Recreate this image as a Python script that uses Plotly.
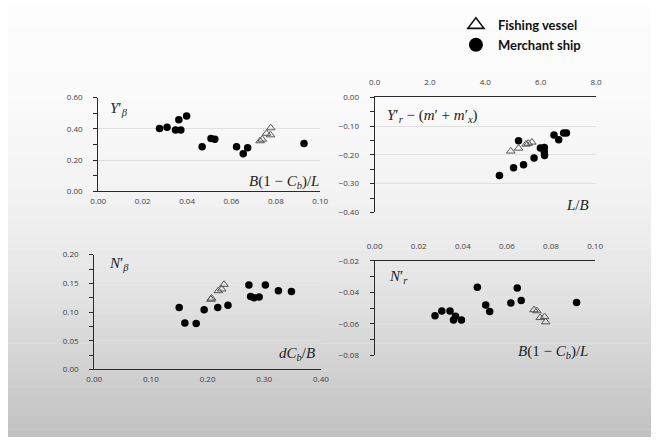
import plotly.graph_objects as go

W, H = 659, 442

# ---- data ----
x1_merchant = [0.0276, 0.0310, 0.0348, 0.0363, 0.0372, 0.0398, 0.0468, 0.0508, 0.0525, 0.0623, 0.0653, 0.0673, 0.0927]
y1_merchant = [0.402, 0.410, 0.392, 0.458, 0.392, 0.483, 0.286, 0.338, 0.333, 0.286, 0.240, 0.279, 0.306]
x1_fishing = [0.0729, 0.0739, 0.0758, 0.0776, 0.0777]
y1_fishing = [0.323, 0.333, 0.371, 0.361, 0.406]

x2_merchant = [4.51, 5.02, 5.20, 5.38, 5.76, 5.99, 6.13, 6.13, 6.14, 6.48, 6.65, 6.83, 6.93]
y2_merchant = [-0.272, -0.245, -0.151, -0.234, -0.211, -0.176, -0.174, -0.189, -0.202, -0.131, -0.147, -0.124, -0.124]
x2_fishing = [4.92, 5.20, 5.47, 5.55, 5.68]
y2_fishing = [-0.187, -0.177, -0.163, -0.160, -0.156]

x3_merchant = [0.150, 0.160, 0.180, 0.194, 0.218, 0.236, 0.273, 0.276, 0.282, 0.291, 0.302, 0.325, 0.348]
y3_merchant = [0.108, 0.081, 0.080, 0.104, 0.108, 0.112, 0.147, 0.127, 0.125, 0.126, 0.147, 0.137, 0.136]
x3_fishing = [0.206, 0.207, 0.219, 0.225, 0.229]
y3_fishing = [0.122, 0.124, 0.137, 0.140, 0.148]

x4_merchant = [0.0274, 0.0305, 0.0342, 0.0358, 0.0367, 0.0394, 0.0466, 0.0504, 0.0522, 0.0618, 0.0647, 0.0665, 0.0916]
y4_merchant = [-0.0548, -0.0518, -0.0518, -0.0575, -0.0551, -0.0575, -0.0367, -0.0480, -0.0522, -0.0468, -0.0373, -0.0452, -0.0464]
x4_fishing = [0.0723, 0.0736, 0.0751, 0.0771, 0.0776]
y4_fishing = [-0.0511, -0.0518, -0.0561, -0.0555, -0.0588]

legend_names = ["Fishing vessel", "Merchant ship"]

# ---- figure ----
fig = go.Figure()

merchant_marker = dict(symbol="circle", size=7.5, color="#000000")
fishing_marker = dict(symbol="triangle-up-open", size=7.5, color="#555555", line=dict(width=1, color="#555555"))

sets = [
    ("x", "y", x1_merchant, y1_merchant, x1_fishing, y1_fishing),
    ("x2", "y2", x2_merchant, y2_merchant, x2_fishing, y2_fishing),
    ("x3", "y3", x3_merchant, y3_merchant, x3_fishing, y3_fishing),
    ("x4", "y4", x4_merchant, y4_merchant, x4_fishing, y4_fishing),
]
for xa, ya, xm, ym, xf, yf in sets:
    fig.add_trace(go.Scatter(x=xm, y=ym, mode="markers", marker=merchant_marker,
                             xaxis=xa, yaxis=ya, showlegend=False, hoverinfo="x+y"))
    fig.add_trace(go.Scatter(x=xf, y=yf, mode="markers", marker=fishing_marker,
                             xaxis=xa, yaxis=ya, showlegend=False, hoverinfo="x+y"))

# legend entries
fig.add_trace(go.Scatter(x=[None], y=[None], mode="markers", name=legend_names[0],
                         marker=dict(symbol="triangle-up-open", size=14, color="#111111",
                                     line=dict(width=1.6, color="#111111"))))
fig.add_trace(go.Scatter(x=[None], y=[None], mode="markers", name=legend_names[1],
                         marker=dict(symbol="circle", size=14, color="#000000")))


def px_x(p):
    return p / W


def px_y(p):
    return 1 - p / H


tickfont = dict(family="Open Sans", size=8, color="#404040")
axis_line = dict(showline=True, linecolor="#2a2a2a", linewidth=1, zeroline=False)


def xaxis(dom, anchor, rng, dtick, fmt, side="bottom"):
    return dict(domain=dom, anchor=anchor, range=rng, dtick=dtick, tick0=0, tickformat=fmt,
                side=side, showgrid=False, ticks="", ticklen=0, tickfont=tickfont,
                ticklabelstandoff=(2 if side == "bottom" else 8),
                fixedrange=True, **axis_line)


def yaxis(dom, anchor, rng, dtick, minor, fmt):
    return dict(domain=dom, anchor=anchor, range=rng, dtick=dtick, tick0=0, tickformat=fmt,
                showgrid=True, gridcolor="#e0e0e0", gridwidth=1,
                ticks="outside", ticklen=4, tickcolor="#2a2a2a",
                minor=dict(dtick=minor, ticks="outside", ticklen=4, tickcolor="#2a2a2a", showgrid=False),
                tickfont=tickfont, ticklabelstandoff=9, fixedrange=True, **axis_line)


fig.update_layout(
    xaxis=xaxis([px_x(92.5), px_x(320)], "y", [0, 0.1], 0.02, ".2f"),
    yaxis=yaxis([px_y(190), px_y(94)], "x", [0, 0.6], 0.2, 0.1, ".2f"),
    xaxis2=xaxis([px_x(375.7), px_x(602.7)], "y2", [0, 8], 2, ".1f", side="top"),
    yaxis2=yaxis([px_y(211.7), px_y(93.7)], "x2", [-0.4, 0], 0.1, 0.05, ".2f"),
    xaxis3=xaxis([px_x(88.3), px_x(320.7)], "y3", [0, 0.4], 0.1, ".2f"),
    yaxis3=yaxis([px_y(372.7), px_y(255)], "x3", [0, 0.2], 0.05, 0.025, ".2f"),
    xaxis4=xaxis([px_x(375.7), px_x(601.7)], "y4", [0, 0.1], 0.02, ".2f", side="top"),
    yaxis4=yaxis([px_y(358.3), px_y(261.3)], "x4", [-0.08, -0.02], 0.02, 0.01, ".2f"),
)

# background gradient (white at top to grey at bottom)
stops = [(0, 253), (90, 251), (200, 242), (300, 226), (380, 208), (442, 192)]


def shade(p):
    for (a, va), (b, vb) in zip(stops[:-1], stops[1:]):
        if a <= p <= b:
            return va + (vb - va) * (p - a) / (b - a)
    return stops[-1][1]


shapes = []
n = 60
for i in range(n):
    top = H * i / n
    bot = H * (i + 1) / n
    v = int(round(shade((top + bot) / 2)))
    shapes.append(dict(type="rect", xref="paper", yref="paper", x0=0, x1=1,
                       y0=1 - bot / H, y1=1 - top / H + 0.001, layer="below",
                       line=dict(width=0), fillcolor=f"rgb({v},{v},{v})"))

lab_font = dict(family="Liberation Serif", size=15, color="#222222")
annots = [
    ("<i>Y</i>′<sub><i>β</i></sub>", 103, 106, "left"),
    ("<i>B</i>(1 − <i>C</i><sub><i>b</i></sub>)/<i>L</i>", 321, 180, "right"),
    ("<i>Y</i>′<sub><i>r</i></sub> − (<i>m</i>′ + <i>m</i>′<sub><i>x</i></sub>)", 386, 113, "left"),
    ("<i>L</i>/<i>B</i>", 598, 204, "right"),
    ("<i>N</i>′<sub><i>β</i></sub>", 101, 265, "left"),
    ("<i>dC</i><sub><i>b</i></sub>/<i>B</i>", 317, 357, "right"),
    ("<i>N</i>′<sub><i>r</i></sub>", 388, 278, "left"),
    ("<i>B</i>(1 − <i>C</i><sub><i>b</i></sub>)/<i>L</i>", 596, 355, "right"),
]
annotations = [dict(text=t, x=px_x(x), y=px_y(y), xref="paper", yref="paper",
                    xanchor=a, yanchor="middle", showarrow=False, font=lab_font)
               for t, x, y, a in annots]

fig.update_layout(
    width=W, height=H,
    margin=dict(l=0, r=0, t=0, b=0),
    paper_bgcolor="#ffffff",
    plot_bgcolor="rgba(0,0,0,0)",
    shapes=shapes,
    annotations=annotations,
    showlegend=True,
    legend=dict(x=px_x(457), y=px_y(4), xanchor="left", yanchor="top",
                bgcolor="rgba(0,0,0,0)", itemsizing="trace",
                font=dict(family="Lato", size=13, color="#111111", weight="bold"),
                tracegroupgap=0, itemwidth=34),
)

fig.write_html("out.html")
